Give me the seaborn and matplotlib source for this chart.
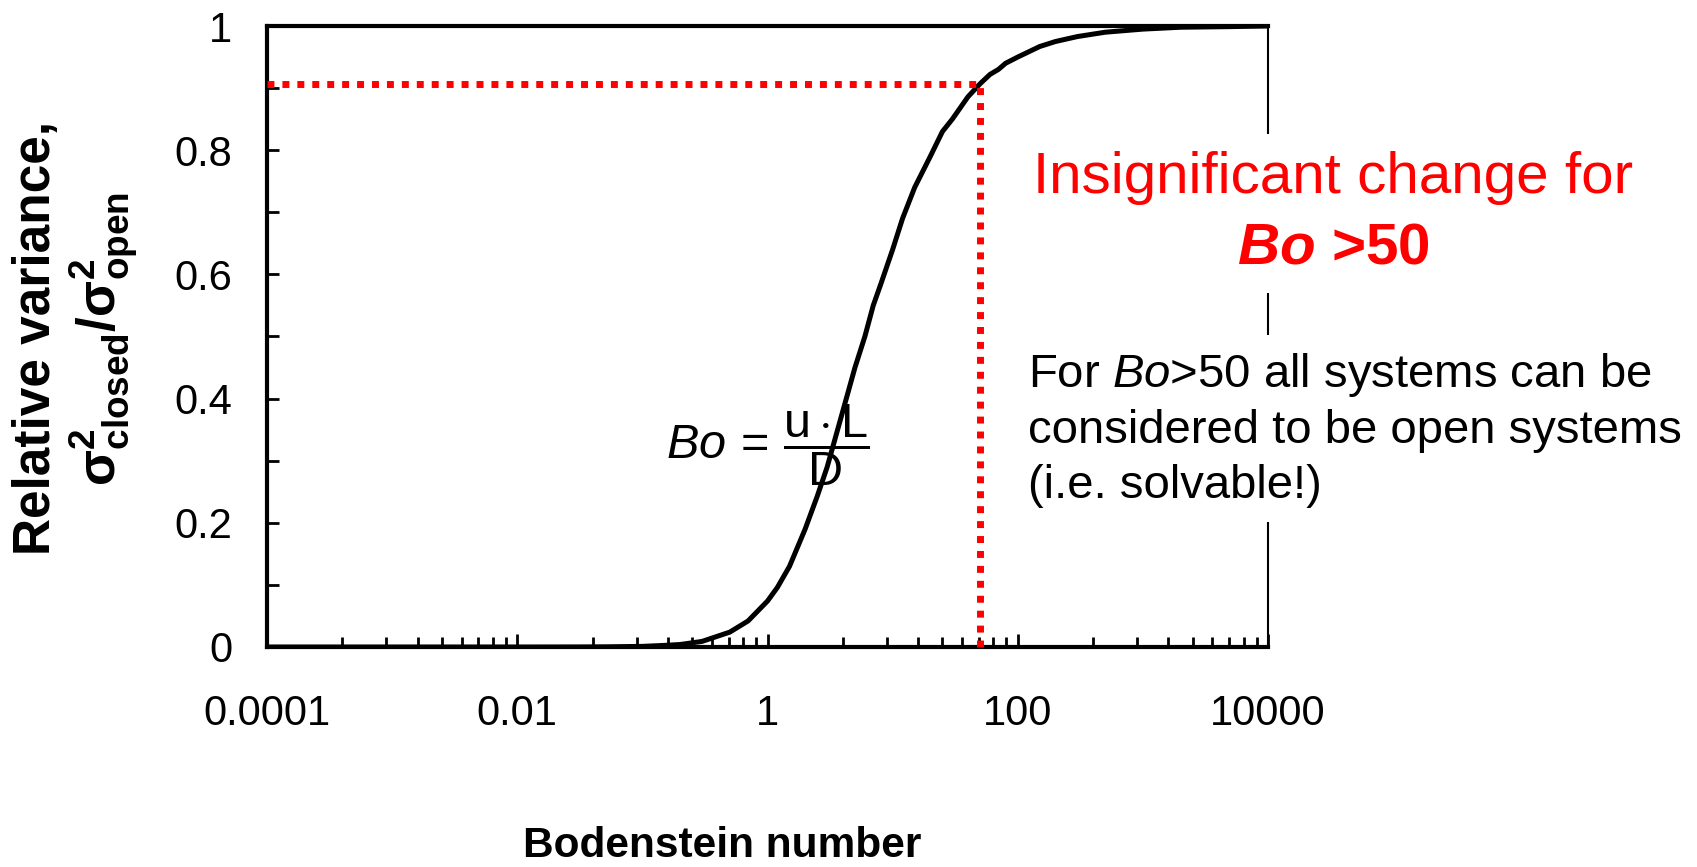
import matplotlib
matplotlib.use("Agg")
import matplotlib.pyplot as plt
import matplotlib.ticker as mticker
import seaborn as sns

# values (Bodenstein number vs relative variance)
bo_number = [1e-4, 1e-3, 1e-2, 0.03, 0.05, 0.1, 0.15, 0.2, 0.3, 0.5, 0.7, 1, 1.2, 1.5, 2,
             2.5, 3, 4, 5, 6, 7, 8, 10, 12, 15, 20, 25, 30, 40, 50, 60, 70, 80, 100,
             150, 200, 300, 500, 1000, 2000, 5000, 10000]
rel_variance = [0, 0, 0, 0.0001, 0.0003, 0.001, 0.0026, 0.004, 0.009, 0.024, 0.042,
                0.074, 0.096, 0.13, 0.19, 0.243, 0.29, 0.38, 0.45, 0.5, 0.55, 0.583,
                0.64, 0.69, 0.74, 0.79, 0.83, 0.85, 0.886, 0.907, 0.922, 0.93, 0.94,
                0.95, 0.967, 0.975, 0.983, 0.99, 0.995, 0.998, 0.999, 1.0]

# marked threshold
bo_limit = 50
var_at_limit = 0.907

x_major = [1e-4, 1e-2, 1, 100, 1e4]
x_labels = ["0.0001", "0.01", "1", "100", "10000"]
y_labels = {0.0: "0", 0.2: "0.2", 0.4: "0.4", 0.6: "0.6", 0.8: "0.8", 1.0: "1"}

sns.set_theme(style="white")
plt.rcParams['font.family'] = ['Liberation Sans', 'DejaVu Sans']
plt.rcParams['text.color'] = 'black'
plt.rcParams['axes.labelcolor'] = 'black'
plt.rcParams['xtick.color'] = 'black'
plt.rcParams['ytick.color'] = 'black'
plt.rcParams['mathtext.fontset'] = 'custom'
plt.rcParams['mathtext.rm'] = 'Liberation Sans'
plt.rcParams['mathtext.it'] = 'Liberation Sans:italic'
plt.rcParams['mathtext.bf'] = 'Liberation Sans:bold'
plt.rcParams['mathtext.bfit'] = 'Liberation Sans:italic:bold'
plt.rcParams['mathtext.sf'] = 'Liberation Sans'

W, H = 1697, 867
fig = plt.figure(figsize=(W / 100, H / 100), dpi=100)
ax = fig.add_axes([267 / W, 1 - 647 / H, 1001 / W, 621 / H])


def fx(px):
    return px / W


def fy(py):
    return 1 - py / H


sns.lineplot(x=bo_number, y=rel_variance, ax=ax, color='black', linewidth=3.6, zorder=3)

# red dotted guide lines
dots = (0, (1, 1.15))
ax.hlines(var_at_limit, bo_number[0], bo_limit, colors='#ff0000', linewidth=5,
          linestyles=[dots], zorder=4, clip_on=False)
ax.vlines(bo_limit, 0, var_at_limit, colors='#ff0000', linewidth=5,
          linestyles=[dots], zorder=4, clip_on=False)

ax.set_xscale('log')
ax.set_xlim(bo_number[0], bo_number[-1])
ax.set_ylim(0, 1)

# log axis with a major unit of two decades, minor ticks at k^2 * major
x_minor = [m * k ** 2 for m in x_major[:-1] for k in range(2, 10)]
ax.xaxis.set_major_locator(mticker.FixedLocator(x_major))
ax.xaxis.set_major_formatter(mticker.FixedFormatter(x_labels))
ax.xaxis.set_minor_locator(mticker.FixedLocator(x_minor))
ax.xaxis.set_minor_formatter(mticker.NullFormatter())
ax.yaxis.set_major_locator(mticker.MultipleLocator(0.1))
ax.yaxis.set_major_formatter(mticker.FuncFormatter(
    lambda v, p: y_labels.get(round(v, 2), "")))

ax.tick_params(axis='x', which='major', direction='in', length=9.5, width=2,
               labelsize=30, pad=34, color='black', bottom=True, top=False)
ax.tick_params(axis='x', which='minor', direction='in', length=7.2, width=2,
               color='black', bottom=True, top=False)
ax.tick_params(axis='y', which='major', direction='in', length=8.6, width=2,
               labelsize=30, pad=25, color='black', left=True, right=False)
ax.tick_params(labelcolor='black')

for side in ['left', 'bottom', 'top']:
    ax.spines[side].set_linewidth(3)
    ax.spines[side].set_color('black')
ax.spines['right'].set_linewidth(1.5)
ax.spines['right'].set_color('black')

# Bodenstein formula
ax.text(0.5005, 0.324, r"$Bo\,=\,\dfrac{\mathrm{u\cdot L}}{\mathrm{D}}$",
        transform=ax.transAxes, fontsize=35, ha='center', va='center', color='black')

# axis labels
fig.text(fx(722), fy(857), "Bodenstein number", fontsize=30.5, fontweight='bold',
         ha='center', va='baseline', color='black')
fig.text(fx(37), fy(338), "Relative variance,", fontsize=37, fontweight='bold',
         rotation=90, ha='center', va='center', color='black')
fig.text(fx(104), fy(339), r"$\mathbf{\sigma^{2}_{closed}/\sigma^{2}_{open}}$",
         fontsize=38, rotation=90, ha='center', va='center', color='black')

# annotations
box = dict(facecolor='white', edgecolor='none', boxstyle='square,pad=0.3')
fig.text(fx(1333), fy(193), "Insignificant change for", color='#ff0000', fontsize=42,
         ha='center', va='baseline', bbox=box)
fig.text(fx(1333), fy(263), r"$\mathbfit{Bo}$ >50", color='#ff0000', fontsize=42,
         fontweight='bold', ha='center', va='baseline', bbox=box)
# multi-line text: 'baseline' anchors the last line
fig.text(fx(1028), fy(498),
         "For $\\mathit{Bo}$>50 all systems can be\nconsidered to be open systems\n(i.e. solvable!)",
         color='black', fontsize=34, ha='left', va='baseline', linespacing=1.31, bbox=box)

fig.savefig("out.png", dpi=100, facecolor='white')
